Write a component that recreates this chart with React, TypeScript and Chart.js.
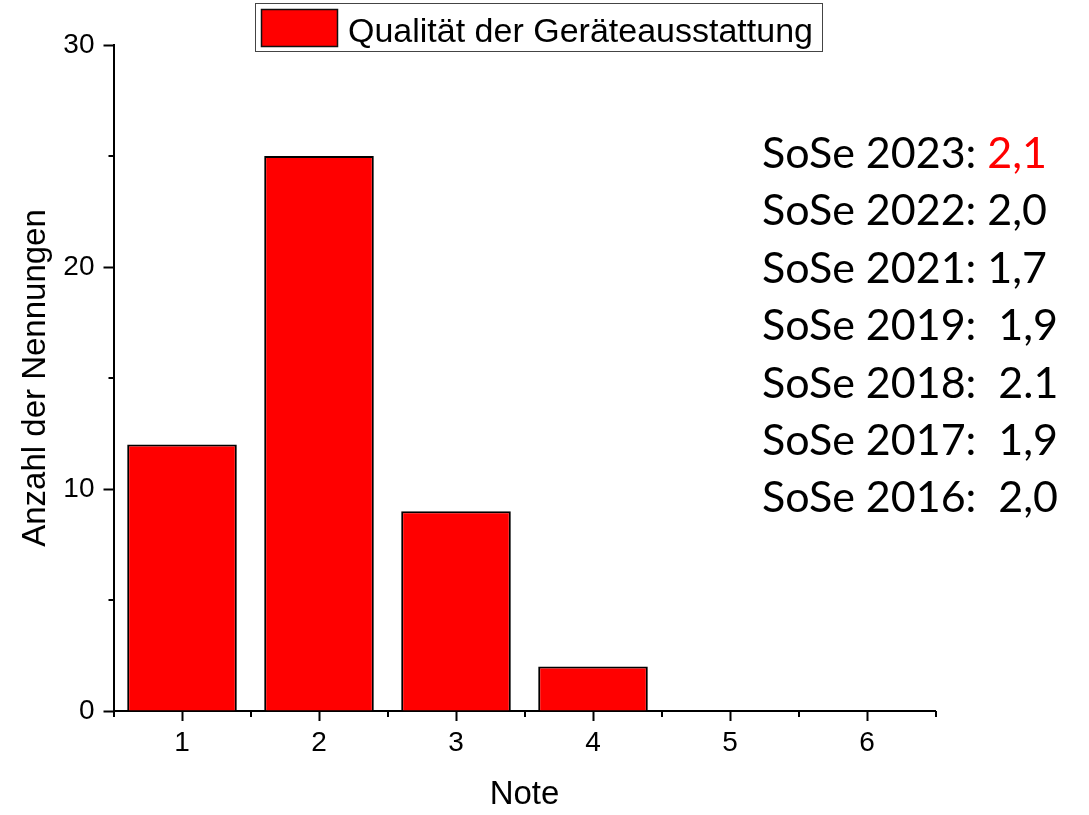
import React, { useEffect, useRef } from "react";
import { Chart, registerables } from "chart.js";

Chart.register(...registerables);

// ---- data ----
const categories = ["1", "2", "3", "4", "5", "6"];
const counts = [12, 25, 9, 2, 0, 0];
const seriesLabel = "Qualität der Geräteausstattung";
const yMinorTicks = [5, 15, 25];
const annotationLabels = [
  "SoSe 2023: ",
  "SoSe 2022: ",
  "SoSe 2021: ",
  "SoSe 2019:  ",
  "SoSe 2018:  ",
  "SoSe 2017:  ",
  "SoSe 2016:  ",
];
const annotationValues = ["2,1", "2,0", "1,7", "1,9", "2.1", "1,9", "2,0"];
const highlightIndex = 0;

const ARIAL = "'Liberation Sans', Arial, sans-serif";

const extrasPlugin = {
  id: "extras",
  afterDraw(chart: any) {
    const { ctx, chartArea } = chart;
    const xs = chart.scales.x;
    const ys = chart.scales.y;
    ctx.save();
    // minor ticks
    ctx.strokeStyle = "#000";
    ctx.lineWidth = 2;
    ctx.beginPath();
    yMinorTicks.forEach((v) => {
      const py = Math.round(ys.getPixelForValue(v));
      ctx.moveTo(chartArea.left - 5, py);
      ctx.lineTo(chartArea.left, py);
    });
    const step = xs.getPixelForValue(1) - xs.getPixelForValue(0);
    for (let i = 0; i <= categories.length; i++) {
      const px = Math.round(xs.getPixelForValue(0) - step / 2 + i * step);
      ctx.moveTo(px, chartArea.bottom);
      ctx.lineTo(px, chartArea.bottom + 6);
    }
    ctx.stroke();

    // legend box
    ctx.lineWidth = 1;
    ctx.strokeStyle = "#444";
    ctx.strokeRect(255.5, 3.5, 567, 48);
    ctx.fillStyle = "#ff0000";
    ctx.fillRect(261, 9, 77, 38);
    ctx.lineWidth = 1.5;
    ctx.strokeStyle = "#111";
    ctx.strokeRect(261.5, 9.5, 76, 37);
    ctx.fillStyle = "#000";
    ctx.font = `34px ${ARIAL}`;
    ctx.textBaseline = "alphabetic";
    ctx.textAlign = "left";
    ctx.fillText(chart.data.datasets[0].label, 348, 42);

    // annotations
    ctx.font = "43px Lato, 'Open Sans', sans-serif";
    annotationLabels.forEach((lab, i) => {
      const y = 168 + i * 57.4;
      ctx.fillStyle = "#000";
      ctx.fillText(lab, 762, y);
      const w = ctx.measureText(lab).width;
      ctx.fillStyle = i === highlightIndex ? "#ff0000" : "#000";
      ctx.fillText(annotationValues[i], 762 + w, y);
    });
    ctx.restore();
  },
};

export default function App() {
  const ref = useRef<HTMLCanvasElement | null>(null);
  useEffect(() => {
    if (!ref.current) return;
    const tickFont = { family: ARIAL, size: 28 };
    const titleFont = { family: ARIAL, size: 33 };
    const chart = new Chart(ref.current, {
      type: "bar",
      data: {
        labels: categories,
        datasets: [
          {
            label: seriesLabel,
            data: counts,
            backgroundColor: "#ff0000",
            borderColor: "#000",
            borderWidth: 2,
            barPercentage: 0.8,
            categoryPercentage: 1,
          },
        ],
      },
      options: {
        responsive: false,
        animation: false,
        devicePixelRatio: 1,
        layout: { padding: { top: 45, right: 153.5, left: 0, bottom: 0 } },
        plugins: { legend: { display: false }, tooltip: { enabled: false } },
        scales: {
          x: {
            type: "category",
            offset: true,
            z: 1,
            afterFit: (s: any) => {
              s.height = 104;
            },
            grid: {
              offset: false,
              drawOnChartArea: false,
              drawTicks: true,
              tickLength: 10,
              tickWidth: 2,
              tickColor: "#000",
            },
            border: { display: true, color: "#000", width: 2 },
            ticks: { color: "#000", font: tickFont, padding: 5, maxRotation: 0 },
            title: {
              display: true,
              text: "Note",
              color: "#000",
              font: titleFont,
              padding: { top: 0, bottom: 0 },
            },
          },
          y: {
            type: "linear",
            min: 0,
            max: 30,
            z: 1,
            afterFit: (s: any) => {
              s.width = 113.5;
            },
            grid: {
              drawOnChartArea: false,
              drawTicks: true,
              tickLength: 10,
              tickWidth: 2,
              tickColor: "#000",
            },
            border: { display: true, color: "#000", width: 2 },
            ticks: { color: "#000", font: tickFont, padding: 9, stepSize: 10 },
            title: {
              display: true,
              text: "Anzahl der Nennungen",
              color: "#000",
              font: titleFont,
              padding: { top: 16, bottom: 0 },
            },
          },
        },
      },
      plugins: [extrasPlugin],
    } as any);
    return () => chart.destroy();
  }, []);
  return (
    <div style={{ position: "absolute", left: 0, top: 0, width: 1089, height: 815, background: "#fff" }}>
      <canvas ref={ref} width={1089} height={815} />
    </div>
  );
}
